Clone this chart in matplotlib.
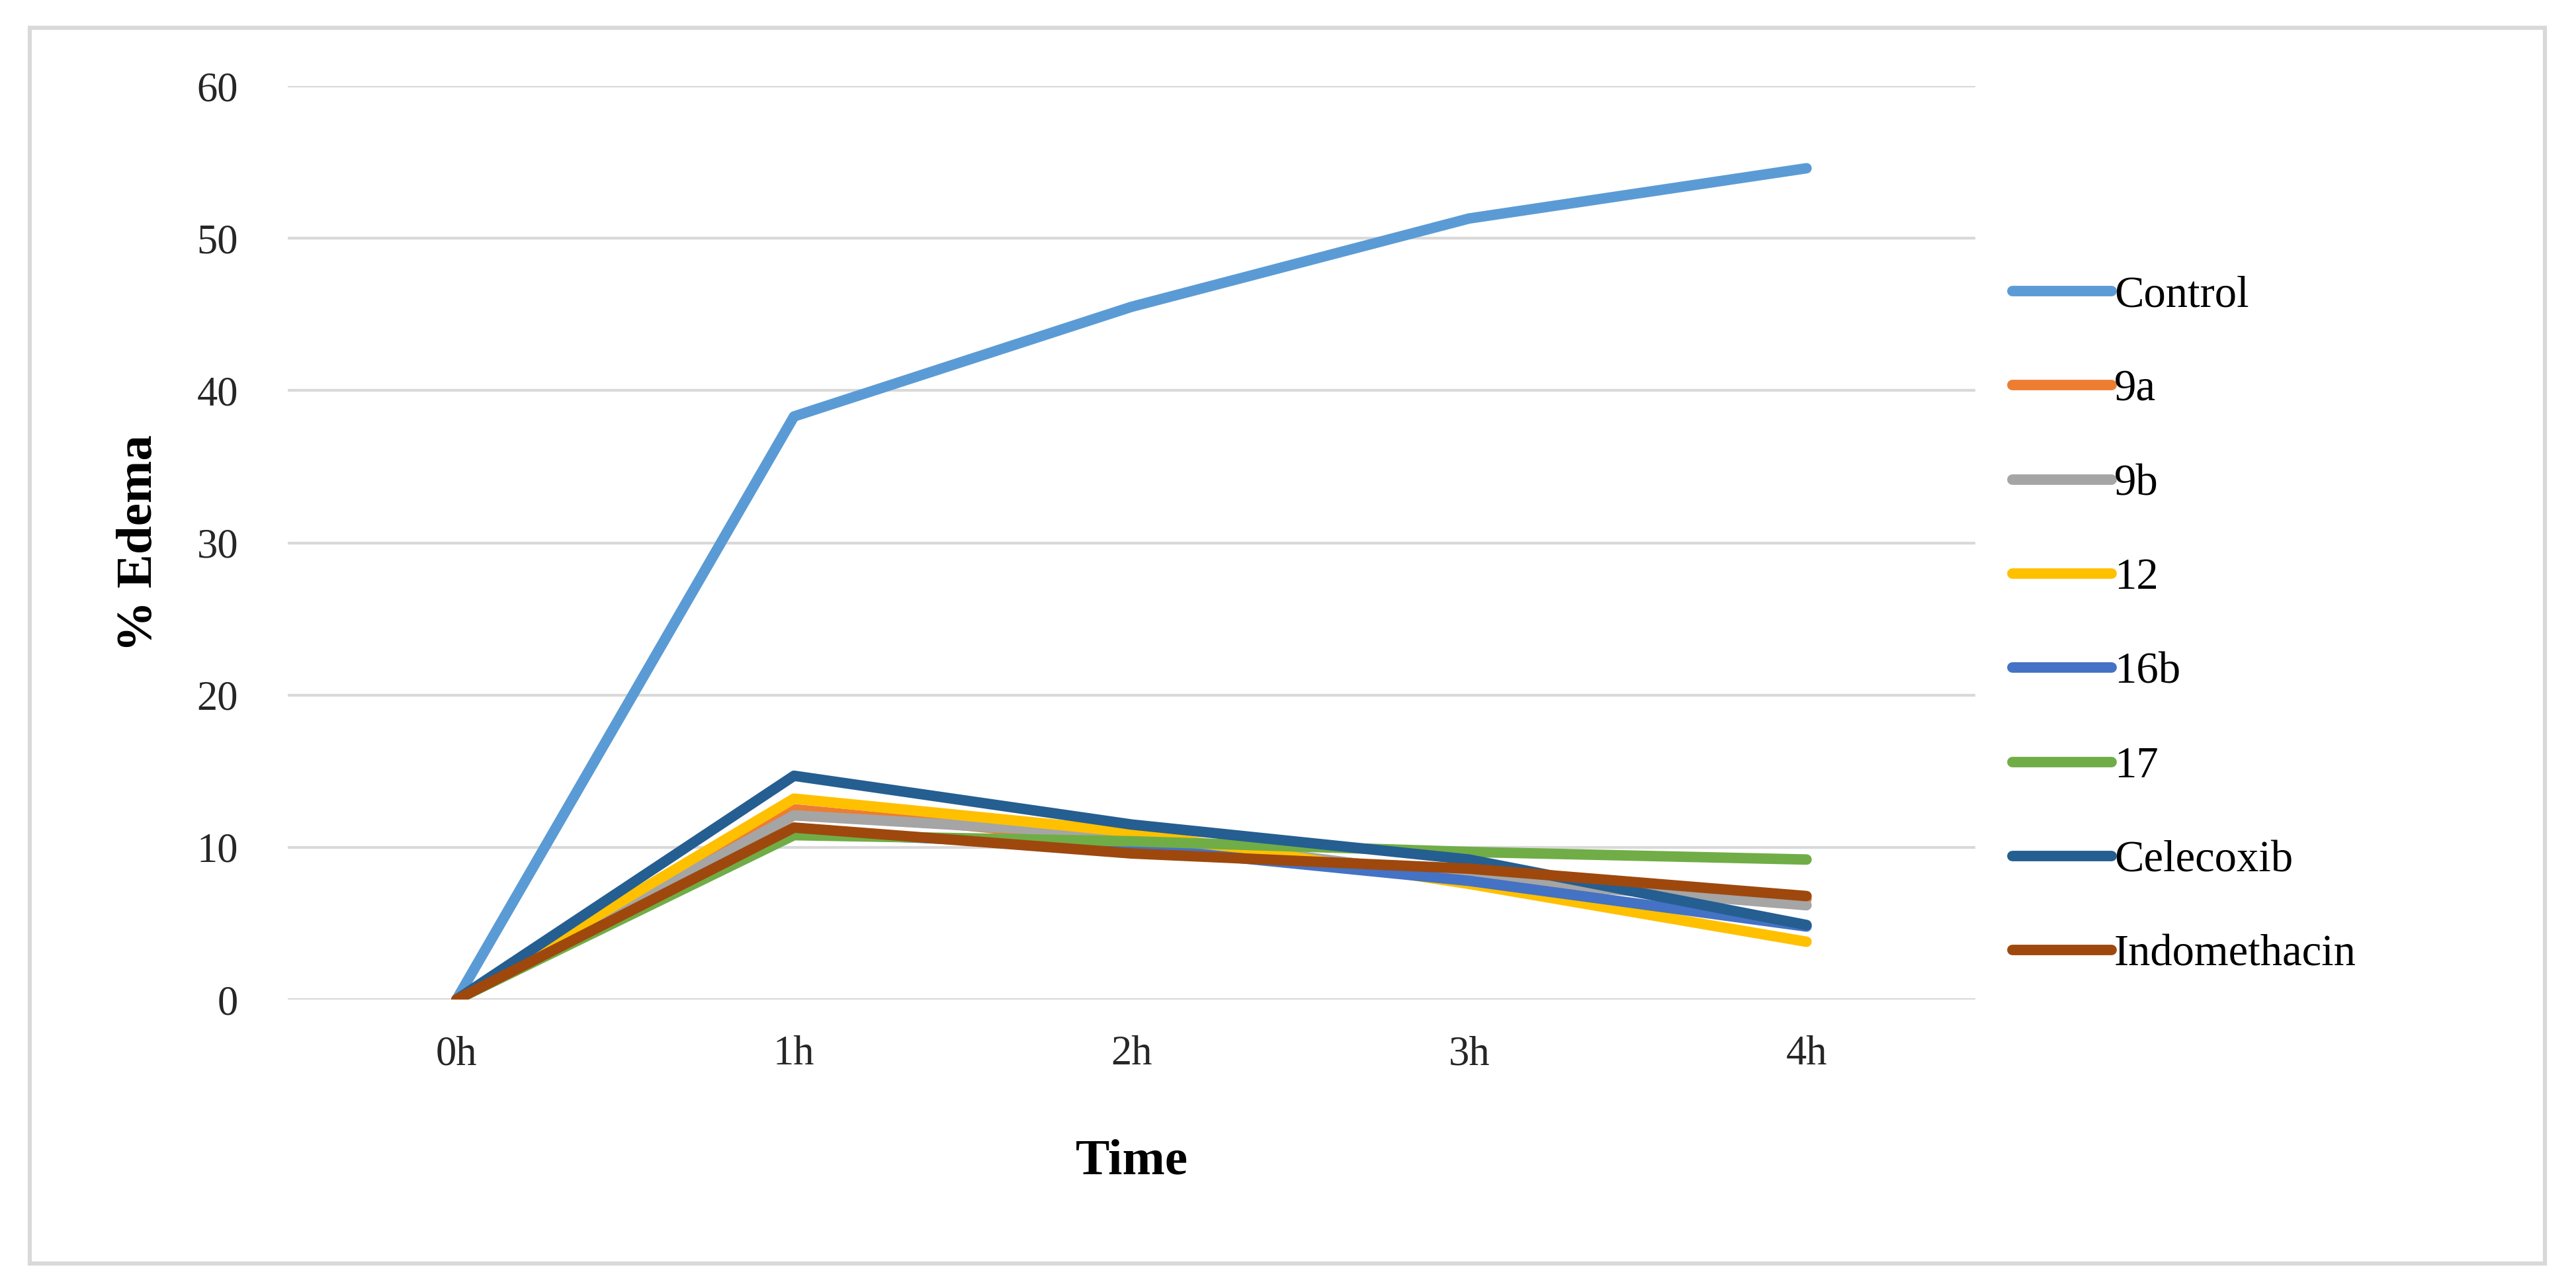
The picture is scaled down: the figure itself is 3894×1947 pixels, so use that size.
import matplotlib
matplotlib.use("Agg")
import matplotlib.pyplot as plt
from matplotlib.patches import Rectangle

plt.rcParams['font.family'] = ['Liberation Serif', 'DejaVu Serif']

# data
times = ["0h", "1h", "2h", "3h", "4h"]
control = [0, 38.3, 45.5, 51.3, 54.6]
c9a = [0, 12.5, 10.4, 8.2, 6.6]
c9b = [0, 12.1, 10.8, 8.0, 6.2]
c12 = [0, 13.2, 11.0, 7.6, 3.8]
c16b = [0, 11.0, 10.0, 7.8, 4.8]
c17 = [0, 10.8, 10.4, 9.7, 9.2]
celecoxib = [0, 14.7, 11.5, 9.2, 4.9]
indomethacin = [0, 11.3, 9.6, 8.6, 6.8]

names = ["Control", "9a", "9b", "12", "16b", "17", "Celecoxib", "Indomethacin"]
series = [control, c9a, c9b, c12, c16b, c17, celecoxib, indomethacin]
colors = ["#5B9BD5", "#ED7D31", "#A5A5A5", "#FFC000",
          "#4472C4", "#70AD47", "#255E91", "#9E480E"]

fig = plt.figure(figsize=(12.98, 6.49), dpi=300)
ax = fig.add_axes([0.1117, 0.2239, 0.6551, 0.7093])

x = list(range(len(times)))
for name, vals, col in zip(names, series, colors):
    ax.plot(x, vals, color=col, lw=3.8, label=name,
            solid_capstyle='round', solid_joinstyle='round')

ax.set_xlim(-0.5, 4.5)
ax.set_ylim(0, 60)
ax.set_yticks(range(0, 61, 10))
ax.set_xticks(x)
ax.set_xticklabels(times)
ax.grid(axis='y', color='#D9D9D9', lw=1.0)
ax.set_axisbelow(True)
for s in ax.spines.values():
    s.set_visible(False)
ax.tick_params(length=0, labelsize=15, colors='#262626')
ax.tick_params(axis='y', pad=18)
ax.tick_params(axis='x', pad=13)

ax.set_ylabel("% Edema", fontsize=18.5, fontweight='bold', va='center')
ax.yaxis.set_label_coords(-0.088, 0.5)
ax.set_xlabel("Time", fontsize=18.5, fontweight='bold', va='center')
ax.xaxis.set_label_coords(0.5, -0.177)

ax.legend(loc='center left', bbox_to_anchor=(0.7812, 0.5146),
          bbox_transform=fig.transFigure, frameon=False, fontsize=16,
          handlelength=2.25, handletextpad=0.06, labelspacing=1.22,
          borderpad=0, borderaxespad=0)

# light frame round the whole chart
fig.patches.append(Rectangle((45 / 3894, 1 - 1910 / 1947), (3847 - 45) / 3894,
                             (1910 - 42) / 1947, transform=fig.transFigure,
                             fill=False, edgecolor='#D9D9D9', lw=1.5))

fig.savefig("out.png", dpi=300, facecolor='white')
